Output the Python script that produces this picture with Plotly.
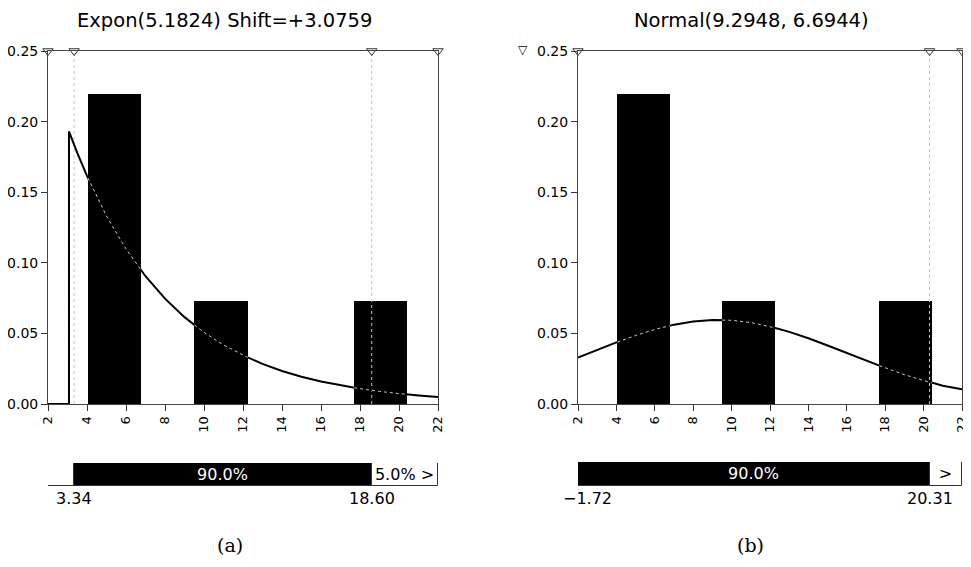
import numpy as np
import plotly.graph_objects as go

# ---------------- data ----------------
titles = ["Expon(5.1824) Shift=+3.0759", "Normal(9.2948, 6.6944)"]
captions = ["(a)", "(b)"]

x_ticks = [2, 4, 6, 8, 10, 12, 14, 16, 18, 20, 22]
y_ticks = [0.00, 0.05, 0.10, 0.15, 0.20, 0.25]

# histogram (same data in both panels)
bin_left = [4.05, 9.51, 17.70]
bin_width = 2.73
bin_density = [0.2198, 0.0733, 0.0733]

# fitted exponential curve
exp_x = [2, 3.0759, 3.0759, 3.5, 4, 5, 6, 7, 8, 9, 10, 11, 12, 13, 14, 15, 16, 17, 18, 19, 20, 21, 22]
exp_y = [0, 0, 0.193, 0.1778, 0.1615, 0.1331, 0.1098, 0.0905, 0.0746, 0.0615, 0.0507, 0.0418,
         0.0345, 0.0284, 0.0234, 0.0193, 0.0159, 0.0131, 0.0108, 0.0089, 0.0074, 0.0061, 0.0050]

# fitted normal curve
norm_x = [2, 3, 4, 5, 6, 7, 8, 9, 10, 11, 12, 13, 14, 15, 16, 17, 18, 19, 20, 21, 22]
norm_y = [0.0329, 0.0383, 0.0436, 0.0485, 0.0528, 0.0562, 0.0585, 0.0595, 0.0593, 0.0577, 0.0549,
          0.0511, 0.0466, 0.0414, 0.0361, 0.0307, 0.0256, 0.0208, 0.0166, 0.0129, 0.0105]

# delimiters / percentage bars
a_limits = [3.34, 18.60]
a_limit_text = ["3.34", "18.60"]
a_seg_edges = [2, 3.34, 18.60, 22]
a_seg_text = ["", "90.0%", "5.0% >"]
a_seg_color = ["white", "black", "white"]

b_limits = [-1.72, 20.31]
b_limit_text = ["\u22121.72", "20.31"]
b_seg_edges = [-1.72, 20.31, 22]
b_seg_text = ["90.0%", ">"]
b_seg_color = ["black", "white"]

# ---------------- layout geometry ----------------
W, H = 971, 567
OFF = 8  # page body margin of the exported html


def px(x):
    return (x - OFF) / W


def py(y):
    return 1 - (y - OFF) / H


panels = [
    dict(xd=[px(48), px(438)], yd=[py(404), py(51)], bd=[py(486), py(463)]),
    dict(xd=[px(578), px(962)], yd=[py(404), py(51)], bd=[py(486), py(462)]),
]

FONT = "DejaVu Sans"
fig = go.Figure()
xr = [x_ticks[0], x_ticks[-1]]
yr = [y_ticks[0], y_ticks[-1]]


def overlay_segments(cx, cy):
    xs, ys = [], []
    cx = np.array(cx, float)
    cy = np.array(cy, float)
    for lo in bin_left:
        hi = lo + bin_width
        inner = [v for v in cx if lo < v < hi]
        seg = [lo] + inner + [hi]
        xs += seg + [None]
        ys += list(np.interp(seg, cx, cy)) + [None]
    return xs, ys


curves = [(exp_x, exp_y), (norm_x, norm_y)]
limits = [(a_limits, a_limit_text, a_seg_edges, a_seg_text, a_seg_color),
          (b_limits, b_limit_text, b_seg_edges, b_seg_text, b_seg_color)]

for i, p in enumerate(panels):
    xa = "x" if i == 0 else "x2"
    ya = "y" if i == 0 else "y2"
    xb = "x3" if i == 0 else "x4"
    yb = "y3" if i == 0 else "y4"
    cx, cy = curves[i]
    lims, lim_text, edges, seg_text, seg_col = limits[i]

    centers = [b + bin_width / 2 for b in bin_left]
    fig.add_trace(go.Bar(x=centers, y=bin_density, width=bin_width,
                         marker=dict(color="black", line=dict(width=0)),
                         xaxis=xa, yaxis=ya, showlegend=False, hoverinfo="skip"))
    # delimiter dotted lines
    for lv in lims:
        if xr[0] < lv < xr[1]:
            fig.add_trace(go.Scatter(x=[lv, lv], y=[yr[0], yr[1]], mode="lines",
                                     line=dict(color="#c4c4c4", width=1, dash="dot"),
                                     xaxis=xa, yaxis=ya, showlegend=False, hoverinfo="skip"))
    # fitted curve
    fig.add_trace(go.Scatter(x=cx, y=cy, mode="lines", line=dict(color="black", width=2),
                             xaxis=xa, yaxis=ya, showlegend=False, hoverinfo="skip"))
    ox, oy = overlay_segments(cx[1:] if i == 0 else cx, cy[1:] if i == 0 else cy)
    fig.add_trace(go.Scatter(x=ox, y=oy, mode="lines", connectgaps=False,
                             line=dict(color="#c8c8c8", width=1, dash="dot"),
                             xaxis=xa, yaxis=ya, showlegend=False, hoverinfo="skip"))
    # triangle markers on top edge
    marks = [xr[0]] + [lv for lv in lims if xr[0] < lv < xr[1]] + [xr[1]]
    fig.add_trace(go.Scatter(x=marks, y=[yr[1]] * len(marks), mode="markers",
                             marker=dict(symbol="triangle-down-open", size=9,
                                         color="#333", line=dict(width=1)),
                             cliponaxis=False, xaxis=xa, yaxis=ya,
                             showlegend=False, hoverinfo="skip"))

    # percentage bar
    ce = np.clip(np.array(edges, float), xr[0], xr[1])
    fig.add_trace(go.Bar(y=["s"] * len(seg_text), x=np.diff(ce), base=ce[:-1],
                         orientation="h", width=1,
                         marker=dict(color=seg_col, line=dict(color="#333", width=1)),
                         text=seg_text, textposition="inside", insidetextanchor="middle",
                         textangle=0, constraintext="none",
                         textfont=dict(family=FONT, size=16,
                                       color=["white" if c == "black" else "black" for c in seg_col]),
                         xaxis=xb, yaxis=yb, showlegend=False, hoverinfo="skip"))
    for lv, lt in zip(lims, lim_text):
        fig.add_annotation(x=float(np.clip(lv, xr[0] + 0.5, xr[1])), y=0, xref=xb, yref=yb + " domain",
                           text=lt, showarrow=False, xanchor="center", yanchor="top", yshift=-1,
                           font=dict(family=FONT, size=16, color="black"))

    axis_common = dict(range=xr, tickvals=x_ticks, ticktext=[str(t) for t in x_ticks],
                       tickangle=-90, ticks="outside", ticklen=6, tickcolor="#333",
                       showline=True, linecolor="#444", linewidth=1, mirror=True,
                       showgrid=False, zeroline=False, domain=p["xd"], automargin=False,
                       tickfont=dict(family=FONT, size=13, color="black"))
    yaxis_common = dict(range=yr, tickvals=y_ticks, ticktext=["%.2f" % t for t in y_ticks],
                        ticks="outside", ticklen=6, tickcolor="#333",
                        showline=True, linecolor="#444", linewidth=1, mirror=True,
                        showgrid=False, zeroline=False, domain=p["yd"], automargin=False,
                        tickfont=dict(family=FONT, size=14, color="black"))
    fig.update_layout(**{
        ("xaxis" if i == 0 else "xaxis2"): dict(axis_common, anchor=ya),
        ("yaxis" if i == 0 else "yaxis2"): dict(yaxis_common, anchor=xa),
        ("xaxis3" if i == 0 else "xaxis4"): dict(range=xr, domain=p["xd"], anchor=yb, visible=False,
                                                 fixedrange=True, automargin=False),
        ("yaxis3" if i == 0 else "yaxis4"): dict(domain=p["bd"], anchor=xb, visible=False,
                                                 fixedrange=True, automargin=False),
    })

# titles and captions
title_x = [px(224), px(751)]
cap_x = [px(230), px(750)]
for i in range(2):
    fig.add_annotation(x=title_x[i], y=py(20), xref="paper", yref="paper", text=titles[i],
                       showarrow=False, xanchor="center", yanchor="middle",
                       font=dict(family=FONT, size=19.5, color="black"))
    fig.add_annotation(x=cap_x[i], y=py(545), xref="paper", yref="paper", text=captions[i],
                       showarrow=False, xanchor="center", yanchor="middle",
                       font=dict(family="DejaVu Serif", size=19, color="black"))

# off-scale lower delimiter of panel b
fig.add_annotation(x=px(523), y=py(50), xref="paper", yref="paper", text="\u25bd",
                   showarrow=False, xanchor="center", yanchor="middle",
                   font=dict(family=FONT, size=12, color="black"))

fig.update_layout(width=W, height=H, margin=dict(l=0, r=0, t=0, b=0, autoexpand=False),
                  paper_bgcolor="white", plot_bgcolor="white", barmode="overlay",
                  bargap=0, showlegend=False)

fig.write_html("out.html")
